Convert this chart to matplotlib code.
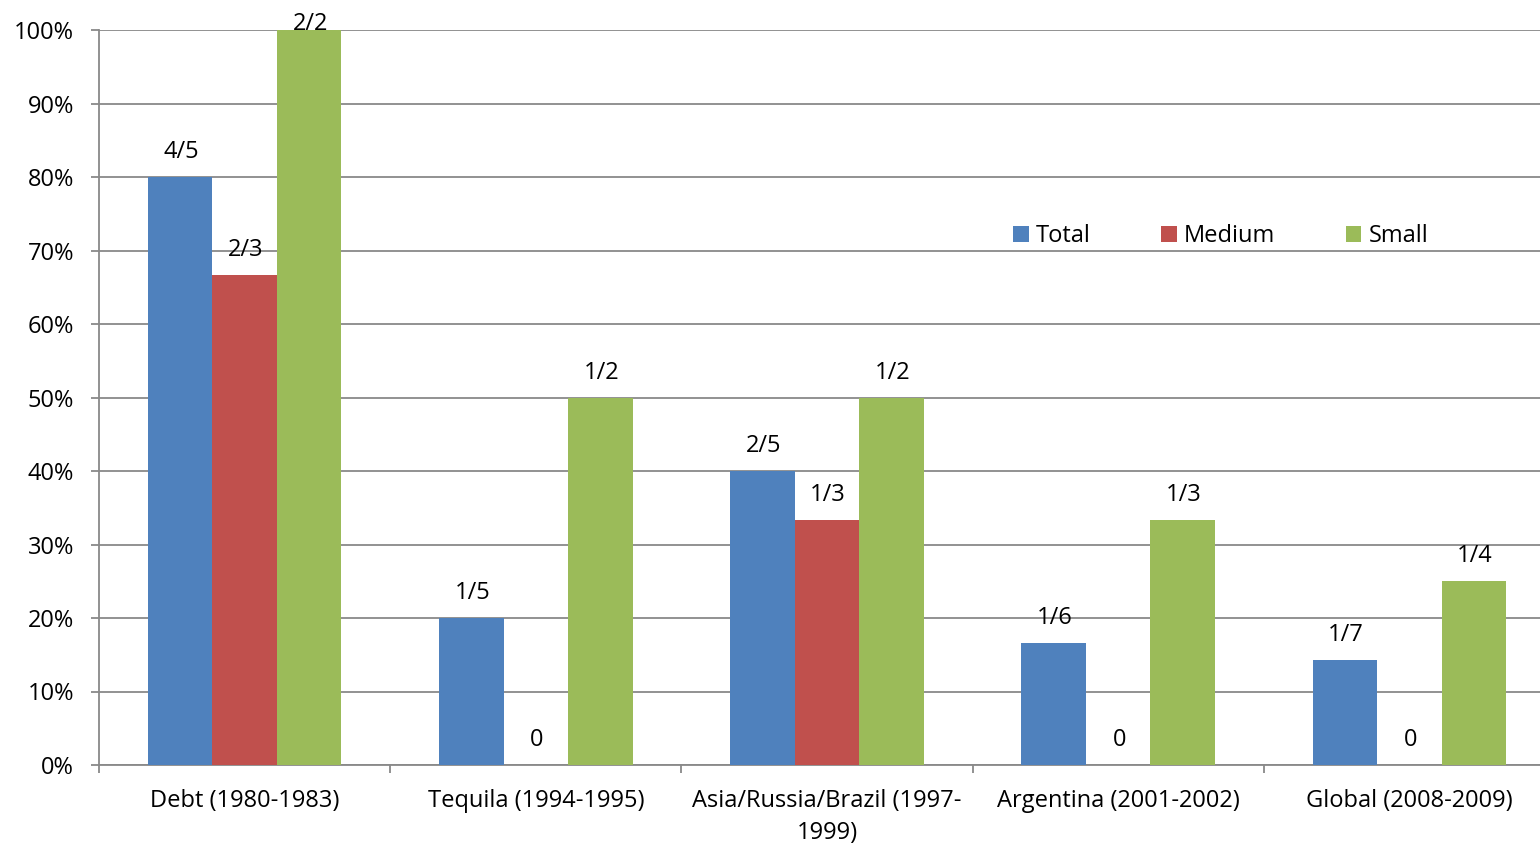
import matplotlib
matplotlib.use("Agg")
import matplotlib.pyplot as plt
import numpy as np

categories = ["Debt (1980-1983)", "Tequila (1994-1995)", "Asia/Russia/Brazil (1997-\n1999)",
              "Argentina (2001-2002)", "Global (2008-2009)"]
series_names = ["Total", "Medium", "Small"]
total = [4/5, 1/5, 2/5, 1/6, 1/7]
medium = [2/3, 0, 1/3, 0, 0]
small = [2/2, 1/2, 1/2, 1/3, 1/4]
total_labels = ["4/5", "1/5", "2/5", "1/6", "1/7"]
medium_labels = ["2/3", "0", "1/3", "0", "0"]
small_labels = ["2/2", "1/2", "1/2", "1/3", "1/4"]
colors = ["#4F81BD", "#C0504D", "#9BBB59"]
yticks = [0, 0.1, 0.2, 0.3, 0.4, 0.5, 0.6, 0.7, 0.8, 0.9, 1.0]

plt.rcParams['font.family'] = ['Open Sans', 'DejaVu Sans']
FS = 17
W, H = 1540, 844
fig = plt.figure(figsize=(W/100, H/100), dpi=100)
ax = fig.add_axes([99/W, (H-765)/H, 1456/W, 735/H])

grid_c = "#898989"
bw = 0.2217
x = np.arange(len(categories))
all_vals = [total, medium, small]
all_labels = [total_labels, medium_labels, small_labels]
for j, (vals, labs) in enumerate(zip(all_vals, all_labels)):
    pos = x + (j - 1) * bw
    ax.bar(pos, vals, width=bw, color=colors[j], label=series_names[j], zorder=3)
    for p, v, l in zip(pos, vals, labs):
        y = min(v + 25/735, 1 + 6/735)
        ax.text(p + 0.004, y, l, ha='center', va='center', fontsize=FS, color='black', zorder=4, clip_on=False)

ax.set_xlim(-0.5, 4.5)
ax.set_ylim(0, 1)
ax.set_yticks(yticks)
ax.set_yticklabels([f"{int(round(t*100))}%" for t in yticks], fontsize=FS)
ax.yaxis.grid(True, color=grid_c, linewidth=1.3, zorder=0)
ax.set_axisbelow(True)
ax.tick_params(axis='y', length=6, width=1.3, color=grid_c, pad=12)

ax.set_xticks(x)
ax.set_xticklabels(categories, fontsize=FS, linespacing=1.45)
ax.set_xticks(np.arange(-0.5, 5.0, 1.0), minor=True)
ax.tick_params(axis='x', which='major', length=0, pad=17)
ax.tick_params(axis='x', which='minor', length=6, width=1.3, color=grid_c)

for s in ['top', 'right']:
    ax.spines[s].set_visible(False)
for s in ['left', 'bottom']:
    ax.spines[s].set_color(grid_c)
    ax.spines[s].set_linewidth(1.3)

leg = ax.legend(ncol=3, frameon=False, fontsize=FS, handlelength=0.65, handleheight=0.65,
                handletextpad=0.3, columnspacing=3.0,
                loc='center left', bbox_to_anchor=(893/1456, 1 - (236-30)/735))

fig.savefig("out.png", dpi=100)
